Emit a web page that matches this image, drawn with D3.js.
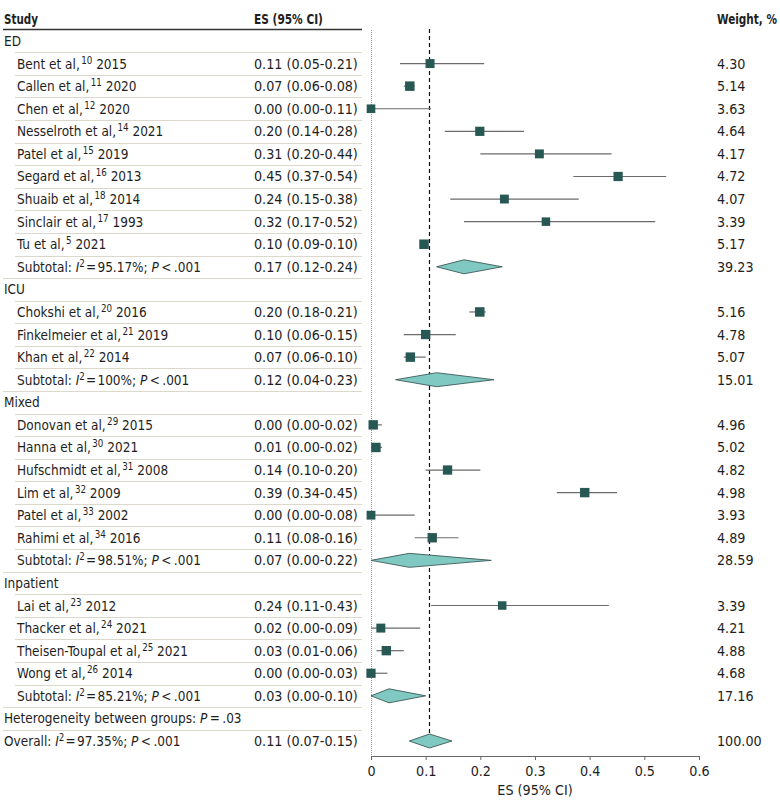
<!DOCTYPE html>
<html><head><meta charset="utf-8">
<script src="https://cdn.jsdelivr.net/npm/d3@7"></script>
<style>
body{margin:0;background:#fff;}
text{font-family:"DejaVu Sans Condensed","Roboto",sans-serif;fill:#1e1e1e;}
</style></head>
<body><svg id="c" width="780" height="809"></svg>
<script>
// ---- data ----
const groups = ["ED", "ICU", "Mixed", "Inpatient"];
const studyGroup = [0,0,0,0,0,0,0,0,0, 1,1,1, 2,2,2,2,2,2, 3,3,3,3];
const studyNames = ["Bent et al,","Callen et al,","Chen et al,","Nesselroth et al,","Patel et al,","Segard et al,","Shuaib et al,","Sinclair et al,","Tu et al,",
  "Chokshi et al,","Finkelmeier et al,","Khan et al,",
  "Donovan et al,","Hanna et al,","Hufschmidt et al,","Lim et al,","Patel et al,","Rahimi et al,",
  "Lai et al,","Thacker et al,","Theisen-Toupal et al,","Wong et al,"];
const studyRefs = ["10","11","12","14","15","16","18","17","5","20","21","22","29","30","31","32","33","34","23","24","25","26"];
const studyYears = ["2015","2020","2020","2021","2019","2013","2014","1993","2021","2016","2019","2014","2015","2021","2008","2009","2002","2016","2012","2021","2021","2014"];
const studyES = [0.108,0.071,0.00,0.199,0.308,0.452,0.244,0.32,0.097, 0.199,0.10,0.072, 0.004,0.009,0.14,0.391,0.00,0.112, 0.24,0.018,0.028,0.00];
const studyLo = [0.053,0.06,0.00,0.135,0.20,0.37,0.145,0.17,0.09, 0.18,0.06,0.06, 0.00,0.00,0.10,0.34,0.00,0.08, 0.11,0.00,0.01,0.00];
const studyHi = [0.207,0.08,0.11,0.28,0.44,0.54,0.38,0.52,0.10, 0.21,0.155,0.10, 0.02,0.02,0.20,0.45,0.08,0.16, 0.435,0.09,0.06,0.03];
const studyText = ["0.11 (0.05-0.21)","0.07 (0.06-0.08)","0.00 (0.00-0.11)","0.20 (0.14-0.28)","0.31 (0.20-0.44)","0.45 (0.37-0.54)","0.24 (0.15-0.38)","0.32 (0.17-0.52)","0.10 (0.09-0.10)",
  "0.20 (0.18-0.21)","0.10 (0.06-0.15)","0.07 (0.06-0.10)",
  "0.00 (0.00-0.02)","0.01 (0.00-0.02)","0.14 (0.10-0.20)","0.39 (0.34-0.45)","0.00 (0.00-0.08)","0.11 (0.08-0.16)",
  "0.24 (0.11-0.43)","0.02 (0.00-0.09)","0.03 (0.01-0.06)","0.00 (0.00-0.03)"];
const studyWeight = ["4.30","5.14","3.63","4.64","4.17","4.72","4.07","3.39","5.17","5.16","4.78","5.07","4.96","5.02","4.82","4.98","3.93","4.89","3.39","4.21","4.88","4.68"];
const subtotalI2 = ["95.17%","100%","98.51%","85.21%"];
const subtotalES = [0.17,0.12,0.07,0.033];
const subtotalLo = [0.12,0.045,0.00,0.00];
const subtotalHi = [0.24,0.225,0.22,0.10];
const subtotalText = ["0.17 (0.12-0.24)","0.12 (0.04-0.23)","0.07 (0.00-0.22)","0.03 (0.00-0.10)"];
const subtotalWeight = ["39.23","15.01","28.59","17.16"];
const heterogeneityP = ".03";
const overallI2 = "97.35%";
const overallES = 0.107, overallLo = 0.07, overallHi = 0.148;
const overallText = "0.11 (0.07-0.15)";
const overallWeight = "100.00";
const xTicks = [0,0.1,0.2,0.3,0.4,0.5,0.6];

// ---- build rows ----
const rows = [];
groups.forEach((g, gi) => {
  rows.push({type:"group", label:g});
  studyGroup.forEach((sg, i) => {
    if (sg === gi) rows.push({type:"study", name:studyNames[i], ref:studyRefs[i], year:studyYears[i], es:studyES[i], lo:studyLo[i], hi:studyHi[i], text:studyText[i], w:studyWeight[i]});
  });
  rows.push({type:"subtotal", i2:subtotalI2[gi], es:subtotalES[gi], lo:subtotalLo[gi], hi:subtotalHi[gi], text:subtotalText[gi], w:subtotalWeight[gi]});
});
rows.push({type:"het"});
rows.push({type:"overall", i2:overallI2, es:overallES, lo:overallLo, hi:overallHi, text:overallText, w:overallWeight});

const svg = d3.select("#c");
const x = d3.scaleLinear().domain([0,0.6]).range([371,699]);
const y = d3.scalePoint().domain(d3.range(rows.length)).range([41,741]);
const step = y.step();
const fs = 14.2;
const sx = 0.95; // horizontal squeeze of label column
const boxSize = d3.scaleLinear().domain([3.39,5.17]).range([8.5,9.5]);

// header (bold text squeezed to the reference width)
function hdr(xp, txt, len) {
  const t = svg.append("text").attr("font-size",fs).attr("font-weight","bold").text(txt);
  const k = Math.min(1, len / t.node().getComputedTextLength());
  t.attr("transform", `translate(${xp},24) scale(${k},1)`);
}
hdr(4, "Study", 34);
hdr(254, "ES (95% CI)", 69);
hdr(717, "Weight, %", 60);
svg.append("line").attr("x1",3).attr("x2",362).attr("y1",29.5).attr("y2",29.5).attr("stroke","#333").attr("stroke-width",1.5);

// separators
rows.forEach((r,i) => {
  if (i === rows.length-1) return;
  const nxt = rows[i+1];
  const indent = (nxt.type === "study" || nxt.type === "subtotal") ? 15 : 3;
  const yy = Math.round(y(i) + step/2) + 0.5;
  svg.append("line").attr("x1",indent).attr("x2",362).attr("y1",yy).attr("y2",yy).attr("stroke","#dcd9cc").attr("stroke-width",1);
});

// reference lines
svg.append("line").attr("x1",x(0)+0.5).attr("x2",x(0)+0.5).attr("y1",30).attr("y2",756).attr("stroke","#999").attr("stroke-dasharray","1,1");
svg.append("line").attr("x1",x(overallES)).attr("x2",x(overallES)).attr("y1",29).attr("y2",y(rows.length-1)-7).attr("stroke","#111").attr("stroke-width",1.2).attr("stroke-dasharray","4,3");

// text
function label(xp, cy) {
  return svg.append("text").attr("transform",`translate(${xp},${cy}) scale(${sx},1)`).attr("font-size",fs);
}
rows.forEach((r,i) => {
  const cy = y(i) + 5;
  if (r.type === "group") {
    label(4, cy).text(r.label);
  } else if (r.type === "study") {
    const t = label(17, cy);
    t.append("tspan").text(r.name);
    t.append("tspan").attr("font-size",fs*0.72).attr("dy",-5).attr("dx",1.5).text(r.ref);
    t.append("tspan").attr("dy",5).text(" " + r.year);
  } else if (r.type === "subtotal" || r.type === "overall") {
    const t = label(r.type==="subtotal"?17:4, cy);
    t.append("tspan").text(r.type==="subtotal" ? "Subtotal: " : "Overall: ");
    t.append("tspan").attr("font-style","italic").text("I");
    t.append("tspan").attr("font-size",fs*0.72).attr("dy",-5).text("2");
    t.append("tspan").attr("dy",5).text("\u200A=\u200A" + r.i2 + "; ");
    t.append("tspan").attr("font-style","italic").text("P");
    t.append("tspan").text("\u2009<\u2009.001");
  } else if (r.type === "het") {
    const t = label(4, cy);
    t.append("tspan").text("Heterogeneity between groups: ");
    t.append("tspan").attr("font-style","italic").text("P");
    t.append("tspan").text("\u2009=\u2009" + heterogeneityP);
  }
  if (r.text) svg.append("text").attr("x",254).attr("y",cy).attr("font-size",fs).text(r.text);
  if (r.w) svg.append("text").attr("x",717).attr("y",cy).attr("font-size",fs).text(r.w);
});

// marks
rows.forEach((r,i) => {
  const cy = y(i);
  if (r.type === "study") {
    svg.append("line").attr("x1",x(r.lo)).attr("x2",x(r.hi)).attr("y1",cy).attr("y2",cy).attr("stroke","#6b6b6b").attr("stroke-width",1.2);
    const s = boxSize(+r.w);
    svg.append("rect").attr("x",x(r.es)-s/2).attr("y",cy-s/2).attr("width",s).attr("height",s).attr("fill","#285853");
  } else if (r.type === "subtotal" || r.type === "overall") {
    const h = 7;
    const pts = [[x(r.lo),cy],[x(r.es),cy-h],[x(r.hi),cy],[x(r.es),cy+h]];
    svg.append("path").attr("d", d3.line()(pts) + "Z").attr("fill","#80c8c2").attr("stroke","#3d5a57").attr("stroke-width",0.9);
  }
});

// axis
const ax = svg.append("g").attr("transform","translate(0,756)")
  .call(d3.axisBottom(x).tickValues(xTicks).tickSize(4).tickSizeOuter(0).tickFormat(d => d===0 ? "0" : d3.format(".1f")(d)));
ax.select(".domain").attr("stroke","#666");
ax.selectAll(".tick line").attr("stroke","#666");
ax.selectAll(".tick text").attr("font-size",14.2).attr("font-family","DejaVu Sans Condensed, Roboto, sans-serif").attr("fill","#1e1e1e").attr("dy","0.9em");
svg.append("text").attr("x",x(0.3)).attr("y",795).attr("text-anchor","middle").attr("font-size",fs).text("ES (95% CI)");
</script></body></html>
